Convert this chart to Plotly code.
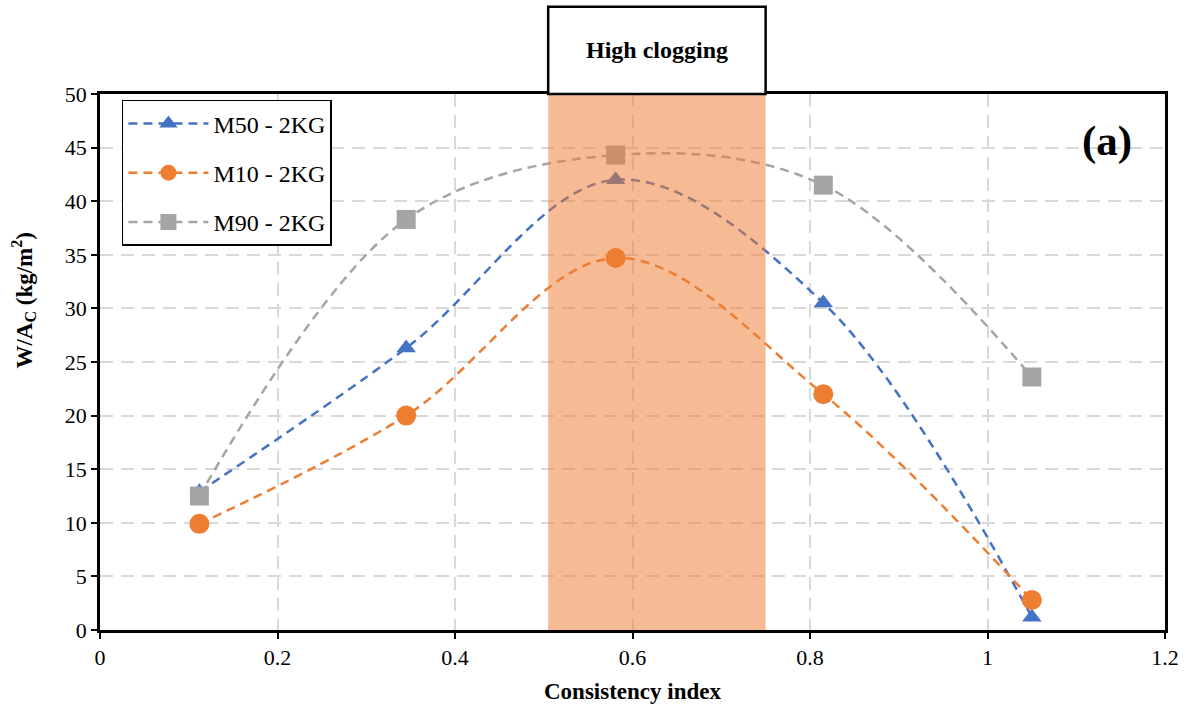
import plotly.graph_objects as go

x_vals = [0.112, 0.345, 0.581, 0.815, 1.05]
m50 = [12.9, 26.3, 42.0, 30.5, 1.2]
m10 = [9.9, 20.0, 34.7, 22.0, 2.8]
m90 = [12.5, 38.3, 44.3, 41.5, 23.6]
series_names = ["M50 - 2KG", "M10 - 2KG", "M90 - 2KG"]
clog_range = [0.505, 0.750]
x_ticks = [0, 0.2, 0.4, 0.6, 0.8, 1.0, 1.2]
x_tick_text = ["0", "0.2", "0.4", "0.6", "0.8", "1", "1.2"]

FONT = "Liberation Serif, Times New Roman, serif"

fig = go.Figure()
styles = [
    (m50, "#4472C4", "triangle-up", 17),
    (m10, "#ED7D31", "circle", 20),
    (m90, "#A5A5A5", "square", 19),
]
for i, (vals, col, sym, sz) in enumerate(styles):
    fig.add_trace(go.Scatter(
        x=x_vals, y=vals, name=series_names[i], mode="lines+markers",
        line=dict(color=col, width=2.5, dash="9px,6px", shape="spline", smoothing=1),
        marker=dict(color=col, symbol=sym, size=sz),
        legendgroup=f"g{i}",
    ))

# shaded high-clogging region (above traces, semi-transparent)
fig.add_shape(type="rect", xref="x", yref="y", x0=clog_range[0], x1=clog_range[1],
              y0=0, y1=50, fillcolor="rgba(237,125,49,0.52)", line_width=0, layer="above")
# label box
fig.add_shape(type="rect", xref="x", yref="paper", x0=clog_range[0], x1=clog_range[1],
              y0=1.0, y1=1.163, fillcolor="white", line=dict(color="black", width=2.5))
fig.add_annotation(x=(clog_range[0] + clog_range[1]) / 2, y=1.082, xref="x", yref="paper",
                   yanchor="middle",
                   text="<b>High clogging</b>", showarrow=False,
                   font=dict(family=FONT, size=24, color="black"))
fig.add_annotation(x=1.135, y=45.6, xref="x", yref="y", text="<b>(a)</b>", showarrow=False,
                   font=dict(family=FONT, size=43, color="black"))
# y-axis title (placed like the reference, slightly above centre)
fig.add_annotation(x=-0.088, y=0.616, xref="paper", yref="paper", textangle=-90,
                   text="<b>W/A<sub>C</sub> (kg/m<sup>2</sup>)</b>", showarrow=False,
                   font=dict(family=FONT, size=23, color="black"))

fig.update_layout(
    width=1191, height=713,
    margin=dict(l=100, r=21, t=94, b=83),
    paper_bgcolor="white", plot_bgcolor="white",
    font=dict(family=FONT, size=22, color="black"),
    showlegend=True,
    legend=dict(x=0.0206, y=0.989, xanchor="left", yanchor="top",
                bgcolor="white", bordercolor="black", borderwidth=1.5,
                font=dict(family=FONT, size=24, color="black"),
                tracegroupgap=15, itemwidth=80),
    xaxis=dict(range=[0, 1.2], tickvals=x_ticks, ticktext=x_tick_text,
               showline=True, linecolor="black", linewidth=2.5, mirror=True,
               ticks="outside", ticklen=6, tickwidth=2, tickcolor="black",
               showgrid=True, gridcolor="#D9D9D9", gridwidth=2, griddash="13px,8px",
               zeroline=False, tickfont=dict(size=22),
               title=dict(text="<b>Consistency index</b>", font=dict(size=23), standoff=14)),
    yaxis=dict(range=[0, 50], dtick=5,
               showline=True, linecolor="black", linewidth=2.5, mirror=True,
               ticks="outside", ticklen=6, tickwidth=2, tickcolor="black",
               showgrid=True, gridcolor="#D9D9D9", gridwidth=2, griddash="13px,8px",
               zeroline=False, tickfont=dict(size=22)),
)

fig.write_html("out.html")
